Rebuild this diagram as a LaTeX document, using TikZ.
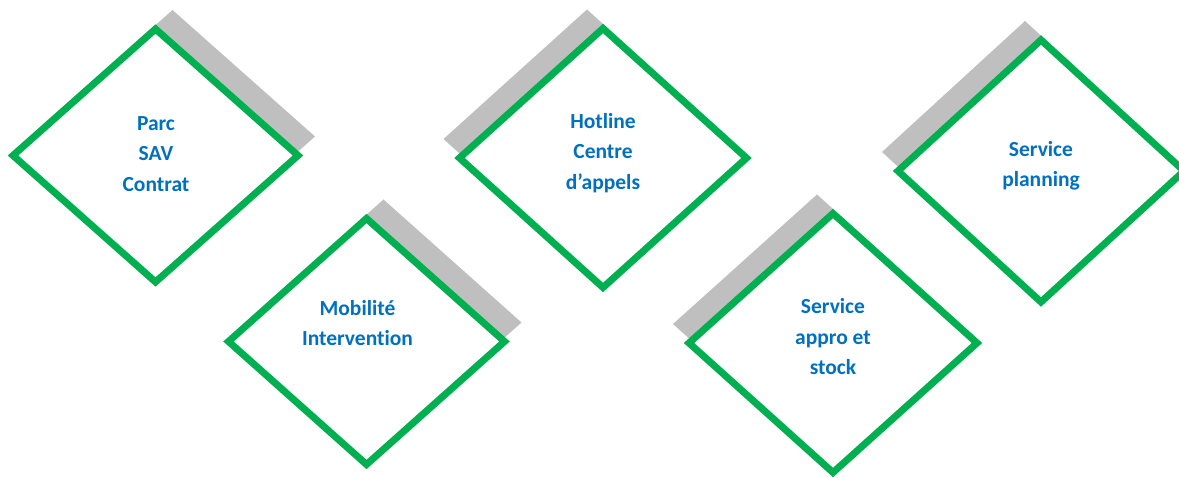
\documentclass[tikz,border=0pt]{standalone}
\usepackage{fontspec}
\setmainfont{Carlito}[Ligatures=NoCommon]
\usepackage{tikz}
\usetikzlibrary{shapes.geometric, positioning}
\definecolor{rimgreen}{HTML}{00B050}
\definecolor{labelblue}{HTML}{0070C0}
\definecolor{shadegray}{HTML}{BFBFBF}

\begin{document}
\begin{tikzpicture}[x=1pt, y=-1pt,
  tile/.style={diamond, draw=rimgreen, line width=7pt, fill=white, inner sep=0pt, outer sep=0pt},
  shade/.style={diamond, fill=shadegray, inner sep=0pt, outer sep=0pt},
  label text/.style={align=center, text=labelblue, font=\fontsize{21.5}{30.5}\selectfont\bfseries}]

\useasboundingbox (0,0) rectangle (1179,478);

\coordinate (c1) at (155.5,155.5);
\coordinate (c2) at (366.5,341.5);
\coordinate (c3) at (603,158);
\coordinate (c4) at (833,343);
\coordinate (c5) at (1041,171);

% shadows
\node[shade, minimum width=285pt, minimum height=253pt] (s1) at ([shift={(17,-19)}]c1) {};
\node[shade, minimum width=276pt, minimum height=246pt] (s2) at ([shift={(17,-19)}]c2) {};
\node[shade, minimum width=287pt, minimum height=259pt] (s3) at ([shift={(-16,-19)}]c3) {};
\node[shade, minimum width=288pt, minimum height=259pt] (s4) at ([shift={(-16,-19)}]c4) {};
\node[shade, minimum width=286pt, minimum height=262pt] (s5) at ([shift={(-16,-19)}]c5) {};

% diamonds
\node[tile, minimum width=285pt, minimum height=253pt] (d1) at (c1) {};
\node[tile, minimum width=276pt, minimum height=246pt] (d2) at (c2) {};
\node[tile, minimum width=287pt, minimum height=259pt] (d3) at (c3) {};
\node[tile, minimum width=288pt, minimum height=259pt] (d4) at (c4) {};
\node[tile, minimum width=286pt, minimum height=262pt] (d5) at (c5) {};

% labels
\node[label text] (t1) at (156,154) {Parc\\SAV\\Contrat};
\node[label text] (t2) at (357.5,323) {Mobilité\\Intervention};
\node[label text] (t3) at (603,153) {Hotline\\Centre\\d’appels};
\node[label text] (t4) at (833,337) {Service\\appro et\\stock};
\node[label text] (t5) at (1041,166) {Service\\planning};
\end{tikzpicture}
\end{document}
